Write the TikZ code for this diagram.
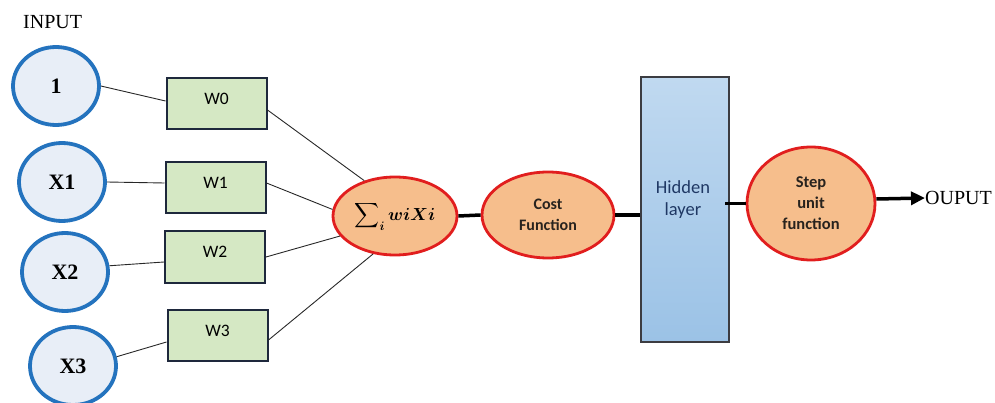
\RequirePackage{fix-cm}
\documentclass[tikz,border=0pt]{standalone}
\usepackage{amsmath}
\usepackage{exscale}
\usepackage{fontspec}
\usepackage{bm}
\setmainfont{Liberation Serif}
\newfontfamily\calib{Carlito}
\usetikzlibrary{shapes.geometric,arrows.meta}
\definecolor{cblue}{RGB}{36,115,190}
\definecolor{cfill}{RGB}{232,238,247}
\definecolor{cgreen}{RGB}{213,232,196}
\definecolor{cnavy}{RGB}{30,40,60}
\definecolor{corange}{RGB}{246,190,140}
\definecolor{cred}{RGB}{225,30,30}
\definecolor{htop}{RGB}{192,217,240}
\definecolor{hbot}{RGB}{155,194,230}
\definecolor{hborder}{RGB}{60,60,65}
\definecolor{htext}{RGB}{31,56,100}
\definecolor{etext}{RGB}{40,35,30}
\definecolor{cline}{RGB}{40,40,40}
\begin{document}
\begin{tikzpicture}[x=1pt,y=-1pt,
  inp/.style={ellipse, draw=cblue, line width=3.8pt, fill=cfill, minimum width=86pt, minimum height=78pt, inner sep=0pt, font=\fontsize{22}{24}\selectfont\bfseries},
  wbox/.style={rectangle, draw=cnavy, line width=2pt, fill=cgreen, minimum width=100pt, minimum height=51pt, inner sep=0pt},
  wlab/.style={yshift=5pt, font=\calib\fontsize{17.5}{18}\selectfont},
  oell/.style={ellipse, draw=cred, line width=2.8pt, fill=corange, inner sep=0pt, text=etext, align=center, font=\calib\bfseries\fontsize{16}{21}\selectfont},
  thin/.style={draw=cline, line width=0.9pt},
  thick/.style={draw=black, line width=3.5pt}
]
\useasboundingbox (0,0) rectangle (995,403);
\node[anchor=west, inner sep=0pt, font=\fontsize{20}{22}\selectfont] (inputlab) at (23,22) {INPUT};
\node[inp] (c0) at (56,86) {1};
\node[inp] (c1) at (62,182) {X1};
\node[inp] (c2) at (65,272) {X2};
\node[inp] (c3) at (73,366) {X3};

\node[wbox, label={[wlab]center:W0}] (w0) at (216.5,104) {};
\node[wbox, label={[wlab]center:W1}] (w1) at (215.5,187.5) {};
\node[wbox, label={[wlab]center:W2}] (w2) at (215,257) {};
\node[wbox, label={[wlab]center:W3}] (w3) at (217.5,335.5) {};

\node[oell, minimum width=124pt, minimum height=78pt, font=\fontsize{17.5}{20}\selectfont, text=black] (s) at (395,216) {$\displaystyle\sum\nolimits_{\bm{i}}\bm{wiXi}$};
\node[oell, minimum width=132pt, minimum height=86pt] (cost) at (548,215) {Cost\\Function};
\node[rectangle, draw=hborder, line width=2.8pt, top color=htop, bottom color=hbot, minimum width=88pt, minimum height=265pt, inner sep=0pt] (hid) at (685,209.5) {};
\node[align=center, text=htext, font=\calib\fontsize{18.5}{22}\selectfont] (hidlab) at (683,200) {Hidden\\layer};
\node[oell, minimum width=128pt, minimum height=113pt, font=\calib\bfseries\fontsize{16.5}{21}\selectfont] (st) at (811,203.5) {Step\\unit\\function};
\node[anchor=west, inner sep=0pt, font=\fontsize{20}{22}\selectfont] (out) at (925,198) {OUPUT};

\draw[thin] (c0.east) -- ([yshift=3pt]w0.west);
\draw[thin] (c1.east) -- ([yshift=4.5pt]w1.west);
\draw[thin] (c2.8) -- ([yshift=-5pt]w2.west);
\draw[thin] (c3.12) -- ([yshift=-6.5pt]w3.west);

\draw[thin] ([yshift=-6pt]w0.east) -- (s.131);
\draw[thin] ([yshift=4.5pt]w1.east) -- (s.174);
\draw[thin] (w2.east) -- (s.200);
\draw[thin] ([yshift=-4.5pt]w3.east) -- (s.240);

\draw[thick] (s.east) -- (cost.west);
\draw[thick] (cost.east) -- (cost.east -| hid.west);
\coordinate (h1) at ([xshift=-5pt]hid.east);
\draw[thick] (h1 |- st.west) -- (st.west);
\draw[thick, -{Triangle[length=14pt,width=13pt]}] ([yshift=4.5pt]st.east) -- (out.west);
\end{tikzpicture}
\end{document}
